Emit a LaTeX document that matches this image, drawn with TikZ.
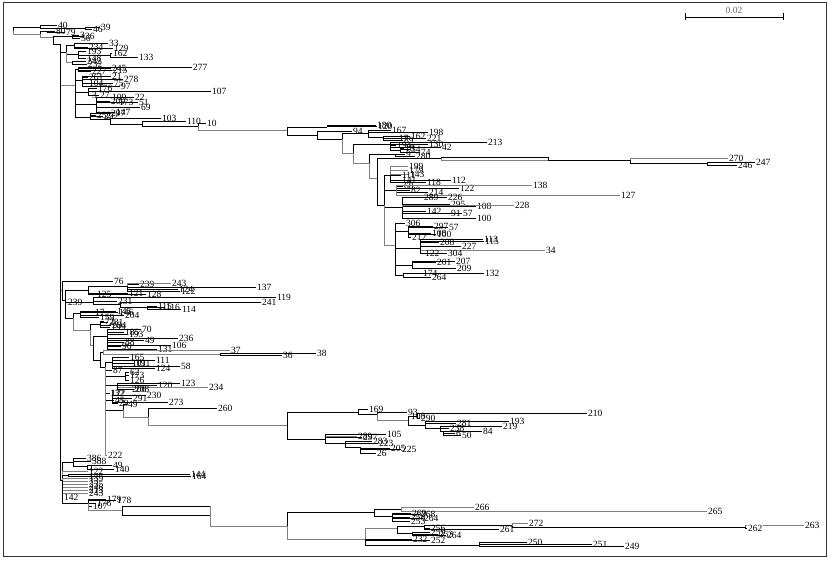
\documentclass[tikz,border=0pt]{standalone}
\usepackage{fontspec}
\setmainfont{Liberation Serif}
\newcommand\lab{\fontsize{9.5}{10}\selectfont}
\tikzset{
  br/.style={draw=black, line width=0.75pt},
  gb/.style={draw=black!50, line width=0.75pt},
  lf/.style={anchor=west, inner sep=0.8pt, font=\lab, text=black},
}
\newcommand\Nd[5][br]{\coordinate (#3) at (#4,#5); \draw[#1] (#2) |- (#3);}
\newcommand\Lf[6][br]{\coordinate (#3) at (#4,#5); \node[lf] (#3t) at (#3) {#6}; \draw[#1] (#2) |- (#3);}
\begin{document}
\begin{tikzpicture}[x=1pt,y=-1pt]
\useasboundingbox (0,0) rectangle (833,561);
\draw[line width=0.8pt, draw=black!80] (3,2) rectangle (826,556);
% scale bar
\coordinate (sb1) at (685,17); \coordinate (sb2) at (783,17);
\draw[br] (sb1) -- (sb2);
\draw[br] ([yshift=3.5pt]sb1) -- ([yshift=-3.5pt]sb1);
\draw[br] ([yshift=3.5pt]sb2) -- ([yshift=-3.5pt]sb2);
\node[font=\lab, text=black!60, inner sep=0pt] (sbl) at (734,10.5) {0.02};
% ---------------- root and top
\coordinate (R) at (13,31);
\Nd{R}{a1}{40}{27}
\Lf{a1}{l40}{57}{25}{40}
\Nd{a1}{a2}{85}{28.5}
\Lf{a2}{l46}{92}{29.5}{46}
\Lf{a2}{l39}{100}{27.5}{39}
\Nd[gb]{R}{a3}{40}{34}
\Nd{a3}{a4}{47}{31.5}
\Lf{a4}{l80}{55}{31}{80}
\Lf{a4}{l79}{65}{32}{79}
\Nd[gb]{a3}{a5}{53}{37}
\Nd{a5}{a6}{72}{36.5}
\Lf{a6}{l3a}{79}{35}{3}
\Lf{a6}{l36a}{84}{36.5}{36}
\Lf{a6}{l56}{80}{38.5}{56}
\Nd{a5}{T}{60}{44}
% top cluster 1
\Nd{T}{b1}{66}{52}
\Nd{b1}{b2}{74}{45.5}
\Lf{b2}{l33}{108}{43.5}{33}
\Lf{b2}{l234}{88}{47.5}{234}
\Lf{b2}{l129}{113}{48.5}{129}
\Nd{b1}{b5}{78}{54}
\Lf{b5}{l193}{86}{51.5}{193}
\Nd{b5}{b5a}{110}{55.5}
\Lf{b5a}{l162}{112}{53.5}{162}
\Lf{b5a}{l133}{138}{57.5}{133}
\Lf{b5}{l148}{86}{58}{148}
\Nd[gb]{b1}{b6}{72}{62}
\Lf{b6}{l242}{86}{61.5}{242}
\Lf{b6}{l232a}{87}{64.5}{232}
% top cluster 2
\Nd[gb]{T}{b7}{75}{85}
\Nd{b7}{b8}{78}{69}
\Lf{b8}{l277}{192}{67}{277}
\Lf{b8}{l245}{111}{68.5}{245}
\Lf{b8}{l215}{112}{70}{215}
\Lf{b8}{l227a}{91}{71.5}{227}
\Nd{b7}{b9}{82}{80}
\Lf{b9}{l261a}{88}{77.5}{261}
\Lf{b9}{l21}{111}{76.5}{21}
\Lf{b9}{l278}{123}{79.5}{278}
\Lf{b9}{l104}{88}{83.5}{104}
\Lf{b9}{l75}{113}{83}{75}
\Lf{b9}{l97}{120}{86}{97}
\Nd{b7}{b11}{88}{92}
\Lf{b11}{l176}{97}{88.5}{176}
\Lf{b11}{l107}{211}{91}{107}
\Lf{b11}{l3b}{91}{95}{3}
\Lf{b11}{l27}{99}{95.5}{27}
\Nd{b7}{b12}{96}{104}
\Lf{b12}{l109}{111}{97.5}{109}
\Lf{b12}{l22}{134}{97}{22}
\Lf{b12}{l209}{110}{101}{209}
\Lf{b12}{l173}{118}{102}{173}
\Lf{b12}{l51}{138}{102.5}{51}
\Lf{b12}{l69}{140}{107.5}{69}
\Lf{b12}{l147}{115}{112}{147}
\Nd{b7}{b13}{90}{117}
\Lf{b13}{l252a}{96}{115.5}{252}
\Lf{b13}{l292}{103}{116}{292}
\Lf{b13}{l297}{110}{113.5}{297}
\Nd{b13}{b14}{110}{119.5}
\Lf{b14}{l103}{161}{118.5}{103}
\Nd{b14}{b15}{142}{124}
\Lf{b15}{l110}{186}{121.5}{110}
\Nd{b15}{b16}{198}{126}
\Lf{b16}{l10}{206}{123.5}{10}
\Nd[gb]{b16}{A0}{287}{130.5}
% ---------------- clade A
\Nd{A0}{A1}{327}{127}
\Lf{A1}{l180}{376}{125}{180}
\Lf{A1}{l120}{377}{126.5}{120}
\Nd{A0}{A2}{317}{135}
\Lf{A2}{l94}{352}{131}{94}
\Nd{A2}{A4}{342}{139}
\Nd{A4}{A3}{368}{133}
\Lf{A3}{l167}{391}{130.5}{167}
\Lf{A3}{l198}{428}{132.5}{198}
\Nd{A3}{A3b}{383}{137}
\Lf{A3b}{l17}{398}{138.5}{17}
\Lf{A3b}{l162b}{410}{136}{162}
\Lf{A3b}{l221}{426}{138.5}{221}
\Lf{A3b}{l89}{403}{140}{89}
\Nd[gb]{A4}{A5}{353}{153}
\Nd{A5}{A6}{390}{144}
\Lf{A6}{l213}{487}{142.5}{213}
\Lf{A6}{l130}{428}{144.5}{130}
\Lf{A6}{l42}{441}{147.5}{42}
\Lf{A6}{l194}{396}{145}{194}
\Nd{A6}{A6b}{400}{150}
\Lf{A6b}{l18}{404}{148.5}{18}
\Lf{A6b}{l54}{410}{149}{54}
\Lf{A6b}{l74}{420}{152}{74}
\Nd[gb]{A5}{A7}{369}{163}
\Nd{A7}{A8}{395}{154.5}
\Lf{A8}{l9}{405}{154.5}{9}
\Lf{A8}{l280}{415}{156.5}{280}
\Nd[gb]{A7}{A9}{377}{178}
\Nd{A9}{A10}{441}{158.5}
\Nd{A10}{A11}{548}{157}
\Nd[gb]{A10}{A11b}{548}{160}
\Nd{A11}{A12}{630}{160.5}
\Lf[gb]{A12}{l270}{728}{158}{270}
\Nd{A12}{A13}{707}{163}
\Lf{A13}{l246}{737}{165}{246}
\Lf{A13}{l247}{755}{162.5}{247}
\Nd{A9}{A14}{384}{205}
\Nd{A14}{A15a}{390}{175}
\Lf[gb]{A15a}{l199}{408}{166.5}{199}
\Lf[gb]{A15a}{l179}{408}{170.5}{179}
\Lf[gb]{A15a}{l143}{409}{174.5}{143}
\Lf{A15a}{l111}{401}{175.5}{111}
\Lf{A15a}{l141}{401}{180}{141}
\Lf{A15a}{l118}{426}{182.5}{118}
\Lf{A15a}{l112}{451}{180.5}{112}
\Nd{A14}{A15b}{396}{190}
\Lf{A15b}{l68}{403}{186.5}{68}
\Lf{A15b}{l82}{410}{190}{82}
\Lf{A15b}{l122}{459}{188}{122}
\Lf[gb]{A15b}{l138}{532}{185.5}{138}
\Lf{A15b}{l214}{428}{192}{214}
\Lf[gb]{A15b}{l127}{620}{195}{127}
\Nd{A14}{A15c}{402}{207}
\Lf{A15c}{l289}{423}{197}{289}
\Lf{A15c}{l226}{447}{197.5}{226}
\Lf{A15c}{l295}{450}{204}{295}
\Lf{A15c}{l108}{476}{206.5}{108}
\Lf[gb]{A15c}{l228}{514}{205}{228}
\Lf{A15c}{l142}{426}{211}{142}
\Lf{A15c}{l91}{450}{213}{91}
\Lf{A15c}{l57}{462}{213.5}{57}
\Lf{A15c}{l100}{476}{218}{100}
\Nd[gb]{A14}{A16}{395}{245}
\Lf{A16}{l306}{405}{223}{306}
\Nd{A16}{A16a}{408}{231}
\Lf{A16a}{l297b}{433}{226}{297}
\Lf{A16a}{l57b}{448}{227}{57}
\Lf{A16a}{l106b}{431}{233}{108}
\Lf{A16a}{l100b}{436}{234}{100}
\Lf{A16a}{l212}{411}{237.5}{212}
\Nd{A16}{A16b}{420}{248}
\Lf{A16b}{l208}{439}{242.5}{208}
\Lf{A16b}{l113}{483}{239}{113}
\Lf{A16b}{l115}{484}{241.5}{115}
\Lf{A16b}{l227}{461}{246.5}{227}
\Lf[gb]{A16b}{l34}{545}{250.5}{34}
\Lf{A16b}{l132b}{424}{253}{122}
\Lf{A16b}{l304}{447}{253}{304}
\Nd{A16}{A16c}{412}{265}
\Lf{A16c}{l201}{436}{262.5}{201}
\Lf{A16c}{l207}{455}{261.5}{207}
\Lf{A16c}{l209a}{456}{268}{209}
\Nd{A16}{A16d}{403}{275}
\Lf{A16d}{l132}{484}{273}{132}
\Lf{A16d}{l174}{422}{273}{174}
\Lf{A16d}{l264}{431}{277.5}{264}
% ---------------- clade B
\Nd[gb]{T}{B0}{62}{290}
\Lf{B0}{l76}{113}{281.5}{76}
\Nd{B0}{B1}{65}{300}
\Nd{B1}{B2}{88}{290}
\Nd{B2}{B2a}{127}{286}
\Lf{B2a}{l239}{139}{284}{239}
\Lf[gb]{B2a}{l243}{171}{283.5}{243}
\Lf{B2a}{l137}{256}{287}{137}
\Lf{B2a}{l124}{178}{289}{124}
\Lf{B2a}{l122a}{180}{291}{122}
\Lf{B2}{l121}{128}{293}{121}
\Lf{B2}{l128}{146}{294.5}{128}
\Lf{B2}{l125}{96}{294.5}{125}
\Nd{B1}{B4}{93}{302}
\Lf{B4}{l119}{276}{297.5}{119}
\Lf{B4}{l231}{117}{301}{231}
\Nd{B4}{B4a}{120}{304.5}
\Lf{B4a}{l241}{261}{302.5}{241}
\Nd{B4a}{B4b}{147}{307}
\Lf{B4b}{l115b}{157}{306}{115}
\Lf{B4b}{l116}{165}{307}{116}
\Lf{B4b}{l114}{181}{309.5}{114}
\Lf{B1}{l238}{67}{302}{239}
\Nd{B1}{B3}{73}{318}
\Nd{B3}{B5}{80}{313}
\Lf{B5}{l17b}{94}{312}{17}
\Lf{B5}{l145}{116}{311}{145}
\Lf{B5}{l146}{118}{312.5}{146}
\Lf{B5}{l204}{124}{315.5}{204}
\Lf{B5}{l159}{99}{317.5}{159}
\Nd[gb]{B3}{B3b}{90}{330}
\Nd{B3b}{B5c}{100}{324}
\Lf{B5c}{l72}{104}{321}{72}
\Lf{B5c}{l281}{108}{322.5}{281}
\Lf{B5c}{l284}{111}{325}{284}
\Lf{B5c}{l199b}{110}{327.5}{199}
\Nd[gb]{B3b}{B6}{93}{345}
\Nd{B6}{B7}{107}{336}
\Lf{B7}{l70}{141}{329.5}{70}
\Lf{B7}{l185}{124}{332.5}{185}
\Lf{B7}{l193b}{128}{334}{193}
\Lf{B7}{l236}{178}{338}{236}
\Lf{B7}{l49}{144}{340.5}{49}
\Lf{B7}{l88}{124}{342}{88}
\Lf{B7}{l106}{171}{345}{106}
\Lf{B7}{l96}{121}{346}{96}
\Lf{B7}{l131}{157}{349}{131}
\Nd{B6}{B8}{100}{360}
\Nd{B8}{N37}{103}{352}
\Lf[gb]{N37}{l37}{230}{350}{37}
\Nd[gb]{N37}{N36}{220}{354}
\Lf{N36}{l36}{282}{355.5}{36}
\Lf{N36}{l38}{316}{353}{38}
\Nd{B8}{B9}{105}{367}
\Nd{B9}{B9a}{112}{362}
\Lf{B9a}{l165}{129}{357.5}{165}
\Lf{B9a}{l111b}{155}{360.5}{111}
\Lf{B9a}{l101}{131}{363}{101}
\Lf{B9a}{l191}{135}{363.5}{191}
\Lf{B9a}{l58}{180}{366.5}{58}
\Lf{B9a}{l124b}{155}{368.5}{124}
\Lf{B9}{l87}{112}{370.5}{87}
\Nd{B9}{B9b}{125}{376}
\Lf{B9b}{l62}{129}{372}{62}
\Lf{B9b}{l173b}{129}{375.5}{173}
\Lf{B9b}{l126}{129}{380}{126}
\Nd{B9}{B9c}{117}{385}
\Lf{B9c}{l120b}{157}{385}{120}
\Lf{B9c}{l123}{180}{383}{123}
\Lf[gb]{B9c}{l234b}{208}{387.5}{234}
\Lf{B9c}{l206}{131}{389}{206}
\Lf{B9c}{l208b}{134}{389.5}{208}
\Lf{B9}{l132c}{109}{393}{132}
\Lf{B9}{l122c}{110}{393.5}{122}
\Nd{B9}{B9d}{112}{400}
\Lf{B9d}{l230}{146}{395}{230}
\Lf{B9d}{l291}{132}{398}{291}
\Lf{B9d}{l45}{114}{400.5}{45}
\Lf{B9d}{l29}{118}{403.5}{29}
\Lf{B9d}{l273}{168}{402.5}{273}
\Nd{B9}{B9e}{123}{410}
\Lf{B9e}{l49b}{127}{404}{49}
\Nd[gb]{B9e}{B10}{148}{417}
\Lf{B10}{l260}{217}{408.5}{260}
\Nd[gb]{B10}{C0}{287}{425}
\Lf[gb]{B9}{l222}{107}{455}{222}
% ---------------- clade C
\Nd{C0}{C1}{358}{412}
\Lf{C1}{l169}{368}{409.5}{169}
\Nd{C1}{C2}{377}{414}
\Lf{C2}{l93}{407}{412}{93}
\Nd[gb]{C2}{C3}{408}{420}
\Nd{C3}{C3a}{417}{416}
\Lf{C3a}{l210}{587}{413.5}{210}
\Lf{C3a}{l290}{420}{418}{290}
\Lf{C3}{l108c}{410}{416.5}{108}
\Nd{C3}{C4}{425}{425}
\Lf{C4}{l281c}{456}{423}{281}
\Lf{C4}{l193c}{509}{421.5}{193}
\Nd{C4}{C5}{440}{428}
\Lf{C5}{l219}{502}{426}{219}
\Lf{C5}{l238}{449}{428.5}{238}
\Nd{C5}{C6}{443}{431}
\Lf{C6}{l84}{482}{431}{84}
\Lf{C6}{l6}{455}{433}{6}
\Lf{C6}{l50}{461}{435}{50}
\Nd{C0}{C7}{325}{439}
\Lf[gb]{C7}{l289c}{357}{436}{289}
\Lf{C7}{l297c}{362}{437.5}{297}
\Lf{C7}{l105}{386}{434.5}{105}
\Nd{C7}{C8}{345}{443}
\Lf{C8}{l223}{378}{443}{223}
\Lf{C8}{l283}{372}{441.5}{283}
\Nd{C8}{C9}{360}{447}
\Lf{C9}{l225}{401}{449.5}{225}
\Lf{C9}{l205}{390}{448.5}{205}
\Lf{C9}{l26}{376}{453}{26}
% ---------------- bottom trunk cluster
\Nd{T}{E0}{62}{480}
\Nd{E0}{E1}{73}{462}
\Lf{E1}{l386}{86}{458.5}{386}
\Lf{E1}{l388}{91}{461}{388}
\Nd{E1}{E1a}{87}{466}
\Lf{E1a}{l49c}{112}{465}{49}
\Lf{E1a}{l140}{114}{469.5}{140}
\Lf{E1a}{l1}{88}{468}{1}
\Lf[gb]{E0}{l122e}{88}{471}{122}
\Nd{E0}{E2}{68}{475}
\Lf{E2}{l144}{190}{474}{144}
\Lf{E2}{l164}{191}{476.5}{164}
\Lf[gb]{E0}{l139}{88}{478}{139}
\Lf[gb]{E0}{l73}{88}{481}{73}
\Lf[gb]{E0}{l235}{88}{484}{235}
\Lf[gb]{E0}{l246e}{88}{487}{246}
\Lf[gb]{E0}{l213e}{88}{490}{213}
\Lf[gb]{E0}{l243e}{88}{493}{243}
\Lf{E0}{l142e}{63}{497}{142}
\Nd{E0}{E4}{88}{503}
\Lf{E4}{l179e}{106}{499}{179}
\Lf{E4}{l178}{116}{500.5}{178}
\Lf{E4}{l176e}{96}{503}{176}
\Lf{E4}{l107e}{92}{506}{107}
\Nd[gb]{E4}{P}{122}{510.5}
\Nd{P}{Q1}{210}{506}
\Nd{P}{Q2}{210}{515}
\Nd[gb]{Q1}{D0}{287}{526}
% ---------------- clade D
\Nd{D0}{D1}{374}{512.5}
\Nd{D1}{D1a}{401}{509.5}
\Lf[gb]{D1a}{l266}{474}{507.5}{266}
\Lf[gb]{D1a}{l265}{707}{511}{265}
\Nd{D1}{D1b}{392}{516}
\Lf{D1b}{l269}{411}{513}{269}
\Lf{D1b}{l268}{420}{514}{268}
\Lf{D1b}{l258}{410}{517.5}{258}
\Lf{D1b}{l264d}{423}{518}{264}
\Lf{D1b}{l253}{410}{521}{253}
\Nd[gb]{D0}{D2}{365}{539}
\Nd[gb]{D2}{D3}{397}{528}
\Nd{D3}{D3a}{424}{526}
\Lf{D3a}{l261}{499}{529}{261}
\Lf{D3a}{l256}{430}{528.5}{256}
\Nd{D3a}{N512}{512}{525.5}
\Lf[gb]{N512}{l272}{528}{523}{272}
\Nd{N512}{D3d}{745}{527}
\Lf[gb]{D3d}{l263}{804}{525}{263}
\coordinate (l262) at (747,528.5);
\draw[br] (D3d) |- (l262);
\node[lf, fill=white] (l262t) at (l262) {262};
\Nd{D3}{D3b}{412}{533}
\Lf{D3b}{l259}{430}{532.5}{259}
\Lf{D3b}{l253b}{438}{534}{253}
\Lf{D3b}{l264b}{446}{535}{264}
\Lf{D2}{l232}{412}{539.5}{232}
\Lf{D2}{l252}{430}{540.5}{252}
\Nd{D2}{D4}{479}{545}
\Lf{D4}{l250}{527}{542}{250}
\Lf{D4}{l251}{592}{544.5}{251}
\Lf{D4}{l249}{624}{546}{249}
\end{tikzpicture}
\end{document}
